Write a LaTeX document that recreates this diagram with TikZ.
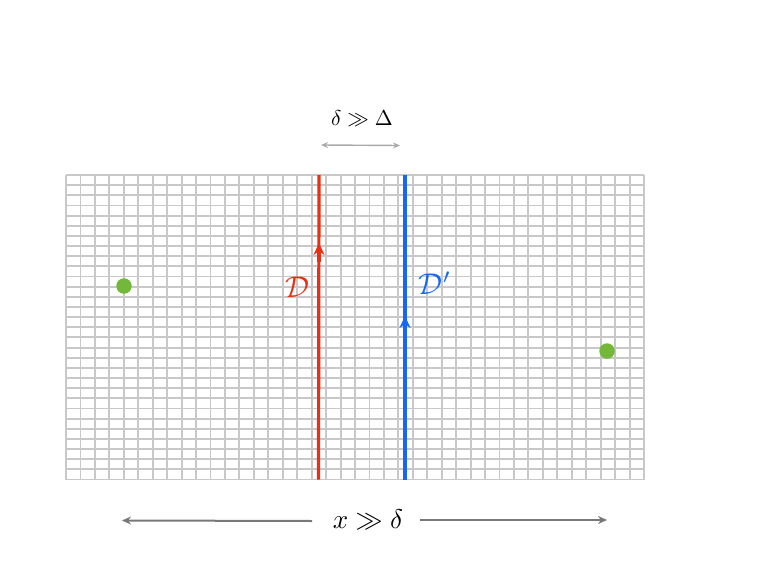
\documentclass[tikz,border=0pt]{standalone}
\usetikzlibrary{arrows.meta}
\definecolor{gridgray}{RGB}{200,200,200}
\definecolor{dred}{RGB}{232,48,20}
\definecolor{dblue}{RGB}{22,104,240}
\definecolor{dotgreen}{RGB}{116,184,58}
\definecolor{darrow}{RGB}{120,120,120}
\definecolor{larrow}{RGB}{170,170,170}
\tikzset{
  gridline/.style={draw=gridgray, line width=1.9pt},
  defect/.style={line width=3.2pt},
  midtip/.style={-{Stealth[length=12pt,width=11pt]}},
  dot/.style={circle, fill=dotgreen, inner sep=0pt, minimum size=15.5pt},
  bigarrow/.style={draw=darrow, line width=2pt, -{Stealth[length=9pt,width=8pt]}},
  smallarrow/.style={draw=larrow, line width=1.4pt, {Stealth[length=7pt,width=6pt]}-{Stealth[length=7pt,width=6pt]}},
}
\begin{document}
\begin{tikzpicture}[x=1pt,y=-1pt]
\useasboundingbox (0,0) rectangle (764,573);
% grid
\foreach \i in {0,...,40} {
  \draw[gridline] ({66+\i*14.45},175) -- ({66+\i*14.45},479.5);
}
\foreach \j in {0,...,30} {
  \draw[gridline] (66,{175+\j*10.15}) -- (644,{175+\j*10.15});
}
% defect lines
\coordinate (rtop) at (319,175);
\coordinate (rmid) at (319,243);
\coordinate (rlow) at (319,262);
\coordinate (rbot) at (318.5,479.5);
\coordinate (btop) at (405,175);
\coordinate (bmid) at (405,316);
\coordinate (blow) at (405,335);
\coordinate (bbot) at (405,479.5);
\draw[defect, dred] (rbot) -- (rtop);
\draw[defect, dred, midtip] (rlow) -- (rmid);
\draw[defect, dblue] (bbot) -- (btop);
\draw[defect, dblue, midtip] (blow) -- (bmid);
\node[text=dred, scale=3] (D) at (297,287) {$\mathcal{D}$};
\node[text=dblue, scale=3] (Dp) at (435,283) {$\mathcal{D}'$};
% dots
\node[dot] (p1) at (124,286) {};
\node[dot] (p2) at (607,351) {};
% top label
\node[scale=2.15] (top) at (362,118) {$\delta \gg \Delta$};
\coordinate (tl) at (321,145);
\coordinate (tr) at (400,145.5);
\draw[smallarrow] (tl) -- (tr);
% bottom label
\node[scale=2.7] (bot) at (368,520) {$x \gg \delta$};
\coordinate (bls) at (312,521);
\coordinate (bl) at (122,520.5);
\coordinate (brs) at (420,520);
\coordinate (br) at (607,520);
\draw[bigarrow] (bls) -- (bl);
\draw[bigarrow] (brs) -- (br);
\end{tikzpicture}
\end{document}
